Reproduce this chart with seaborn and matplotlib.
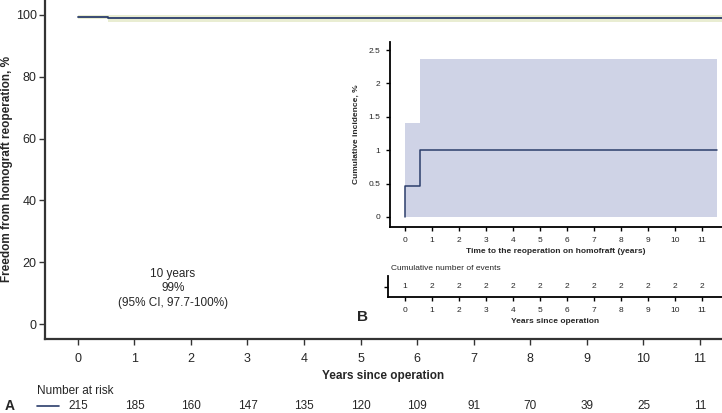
import numpy as np
import matplotlib
matplotlib.use("Agg")
import matplotlib.pyplot as plt
import seaborn as sns

# ============== DATA ==============
years = list(range(12))
at_risk = [215, 185, 160, 147, 135, 120, 109, 91, 70, 39, 25, 11]
cum_events = [1, 2, 2, 2, 2, 2, 2, 2, 2, 2, 2, 2]

# freedom from reoperation (main panel, %)
km_time = [0, 0.53, 11.4]
km_surv = [99.5, 99.0, 99.0]
km_lo = [98.6, 97.7, 97.7]
km_hi = [100, 100, 100]

# cumulative incidence (inset, %)
ci_time = [0, 0, 0.56, 11.55]
ci_val = [0, 0.47, 1.0, 1.0]
band_time = [0, 0.56, 11.55]
band_lo = [0, 0, 0]
band_hi = [1.4, 2.36, 2.36]

navy = "#2b3d6b"
W, H = 722, 413

sns.set_theme(style="ticks")
plt.rcParams['font.family'] = ['Liberation Sans', 'DejaVu Sans']


def box(l, t, r, b):
    # pixel box -> figure fraction
    return [l / W, (H - b) / H, (r - l) / W, (b - t) / H]


fig = plt.figure(figsize=(W / 100, H / 100), dpi=100)

# ============== MAIN PANEL ==============
ax = fig.add_axes(box(45, 0, 722, 339))
ax.fill_between(km_time, km_lo, km_hi, step="post", color="#e9edd2", lw=0)
sns.lineplot(x=km_time, y=km_surv, ax=ax, drawstyle="steps-post", color=navy, lw=1.3,
             estimator=None, sort=False)
ax.set_xlim(-0.58, 11.39)
ax.set_ylim(-4.85, 104.85)
ax.set_xticks(years)
ax.set_yticks([0, 20, 40, 60, 80, 100])
ax.tick_params(labelsize=9, length=4, width=1, color="#333333")
ax.tick_params(axis="y", pad=2)
ax.tick_params(axis="x", pad=6)
sns.despine(ax=ax)
for s in ["left", "bottom"]:
    ax.spines[s].set_linewidth(1.6)
    ax.spines[s].set_color("#333333")
ax.set_xlabel("Years since operation", fontsize=8.5, fontweight="bold", labelpad=4)
ax.set_ylabel("Freedom from homograft reoperation, %", fontsize=8.5, fontweight="bold")
ax.yaxis.set_label_coords(-0.056, 0.5)
ax.yaxis.label.set_va("center")
ax.text(1.68, 11.5, "10 years\n99%\n(95% CI, 97.7-100%)", ha="center", va="center",
        fontsize=8.5, linespacing=1.3)

# number at risk
fig.text(37 / W, 1 - 391 / H, "Number at risk", fontsize=8.5, va="center")
fig.text(5 / W, 1 - 406 / H, "A", fontsize=10, fontweight="bold", va="center")
fig.add_artist(plt.Line2D([37 / W, 59 / W], [1 - 406 / H] * 2, color=navy, lw=1.2))
for yr, n in zip(years, at_risk):
    x_fig = (78 + yr * 56.55) / W
    fig.text(x_fig, 1 - 406 / H, str(n), fontsize=8.5, ha="center", va="center")

# ============== INSET ==============
ins = fig.add_axes(box(390, 42, 722, 227))
ins.fill_between(band_time, band_lo, band_hi, step="post", color="#cfd3e6", lw=0)
sns.lineplot(x=ci_time, y=ci_val, ax=ins, drawstyle="steps-post", color=navy, lw=1.1,
             estimator=None, sort=False)
ins.set_xlim(-0.556, 11.74)
ins.set_ylim(-0.15, 2.62)
ins.set_xticks(years)
ins.set_yticks([0, 0.5, 1, 1.5, 2, 2.5])
ins.set_yticklabels(["0", "0.5", "1", "1.5", "2", "2.5"])
ins.tick_params(labelsize=6, length=3, width=1, color="black", pad=4)
sns.despine(ax=ins)
for s in ["left", "bottom"]:
    ins.spines[s].set_linewidth(1.3)
    ins.spines[s].set_color("black")
ins.set_facecolor("none")
ins.set_xlabel("Time to the reoperation on homofraft (years)", fontsize=6, fontweight="bold", labelpad=3)
ins.set_ylabel("Cumulative incidence, %", fontsize=6, fontweight="bold", labelpad=6)

# cumulative number of events table
ev = fig.add_axes(box(388, 276, 722, 297))
ev.set_xlim(-0.63, 11.74)
ev.set_ylim(-1, 1)
for yr, n in zip(years, cum_events):
    ev.text(yr, 0, str(n), fontsize=6, ha="center", va="center")
ev.set_xticks(years)
ev.set_yticks([0])
ev.set_yticklabels([])
ev.tick_params(labelsize=6, length=3, width=1, color="black", pad=4)
sns.despine(ax=ev)
for s in ["left", "bottom"]:
    ev.spines[s].set_linewidth(1.3)
    ev.spines[s].set_color("black")
ev.set_facecolor("none")
ev.set_xlabel("Years since operation", fontsize=6, fontweight="bold", labelpad=3)
fig.text(391 / W, 1 - 269 / H, "Cumulative number of events", fontsize=6, va="center")
fig.text(357 / W, 1 - 317 / H, "B", fontsize=11, fontweight="bold", va="center")

fig.savefig("out.png", dpi=100)
